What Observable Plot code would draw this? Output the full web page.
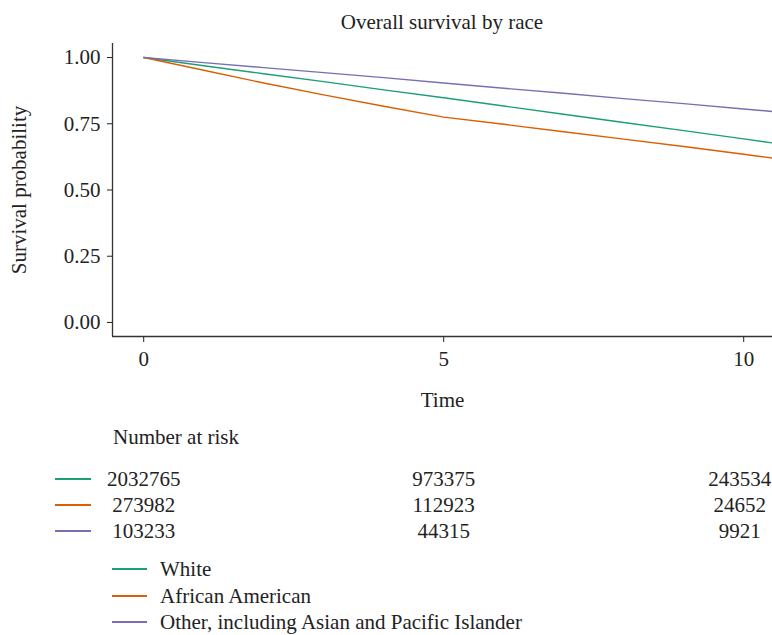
<!DOCTYPE html>
<html><head><meta charset="utf-8">
<script src="https://cdn.jsdelivr.net/npm/d3@7"></script>
<script src="https://cdn.jsdelivr.net/npm/@observablehq/plot@0.6"></script>
<style>
body{margin:0;background:#fff;font-family:"Liberation Serif",serif;color:#222}
#wrap{position:relative;width:772px;height:635px;overflow:hidden}
.abs{position:absolute;white-space:nowrap}
.sw{position:absolute;height:1.5px}
</style></head><body><div id="wrap"></div>
<script>
const groups = ["White", "African American", "Other, including Asian and Pacific Islander"];
const colors = ["#1b9e77", "#d95f02", "#7570b3"];
const times = [0, 1, 2, 3, 4, 5, 6, 7, 8, 9, 10, 10.5];
const survWhite   = [1.000, 0.969, 0.939, 0.909, 0.878, 0.848, 0.817, 0.786, 0.755, 0.724, 0.693, 0.677];
const survAfrican = [1.000, 0.952, 0.904, 0.859, 0.816, 0.775, 0.748, 0.720, 0.692, 0.664, 0.635, 0.620];
const survOther   = [1.000, 0.981, 0.962, 0.943, 0.924, 0.904, 0.884, 0.865, 0.845, 0.826, 0.806, 0.796];
const riskTimes = [0, 5, 10];
const riskWhite   = [2032765, 973375, 243534];
const riskAfrican = [273982, 112923, 24652];
const riskOther   = [103233, 44315, 9921];
const yTicks = [0, 0.25, 0.5, 0.75, 1];
const xTicks = [0, 5, 10];
const titleText = "Overall survival by race";

const survSeries = [survWhite, survAfrican, survOther];
const riskSeries = [riskWhite, riskAfrican, riskOther];
const survData = [];
groups.forEach((g, i) => times.forEach((t, j) => survData.push({group: g, time: t, surv: survSeries[i][j]})));
const riskData = [];
groups.forEach((g, i) => riskTimes.forEach((t, j) => riskData.push({group: g, time: t, n: riskSeries[i][j]})));
const lastT = riskTimes[riskTimes.length - 1];

const FS = 21;
const xDomain = [-0.52, 10.48];
const yDomain = [-0.053, 1.053];
const font = {fontFamily: "Liberation Serif, serif", fontSize: FS + "px", color: "#222", background: "transparent", overflow: "visible"};
const wrap = document.getElementById("wrap");

const chart = Plot.plot({
  width: 772, height: 415,
  marginTop: 43, marginBottom: 79, marginLeft: 112, marginRight: 0,
  style: font,
  x: {domain: xDomain},
  y: {domain: yDomain},
  color: {domain: groups, range: colors},
  marks: [
    Plot.axisY({ticks: yTicks, tickFormat: d3.format(".2f"), tickSize: 5, tickPadding: 7,
      label: "Survival probability", labelAnchor: "center", labelArrow: "none", labelOffset: 101, fontSize: FS}),
    Plot.axisX({ticks: xTicks, tickSize: 6, tickPadding: 9,
      label: "Time", labelAnchor: "center", labelArrow: "none", labelOffset: 70, fontSize: FS}),
    Plot.ruleX([xDomain[0]], {stroke: "#333", strokeWidth: 1.3}),
    Plot.ruleY([yDomain[0]], {stroke: "#333", strokeWidth: 1.3}),
    Plot.line(survData, {x: "time", y: "surv", z: "group", stroke: "group", strokeWidth: 1.4, clip: true})
  ]
});
chart.style.position = "absolute"; chart.style.left = "0px"; chart.style.top = "0px";
wrap.appendChild(chart);

const xs = chart.scale("x");
const title = document.createElement("div");
title.className = "abs";
title.textContent = titleText;
title.style.cssText += `left:${xs.apply(xDomain[0])}px;width:${772 - xs.apply(xDomain[0])}px;top:10px;text-align:center;font-size:${FS}px;line-height:24px;`;
wrap.appendChild(title);

const hdr = document.createElement("div");
hdr.className = "abs";
hdr.textContent = "Number at risk";
hdr.style.cssText += `left:113px;top:425px;font-size:${FS}px;line-height:24px;`;
wrap.appendChild(hdr);

const riskTop = 460;
const risk = Plot.plot({
  width: 772, height: 85,
  marginTop: 5, marginBottom: 0, marginLeft: 112, marginRight: 0,
  style: font,
  x: {domain: xDomain, axis: null},
  y: {type: "point", domain: groups, axis: null, padding: 0.5},
  marks: [
    Plot.text(riskData.filter(d => d.time !== lastT), {x: "time", y: "group", text: d => String(d.n), fontSize: FS, fill: "#222"}),
    Plot.text(riskData.filter(d => d.time === lastT), {x: "time", y: "group", text: d => String(d.n), fontSize: FS, fill: "#222", dx: -4})
  ]
});
risk.style.position = "absolute"; risk.style.left = "0px"; risk.style.top = riskTop + "px";
wrap.appendChild(risk);
const ry = risk.scale("y");
groups.forEach((g, i) => {
  const s = document.createElement("div");
  s.className = "sw";
  s.style.cssText += `left:55px;width:36px;background:${colors[i]};top:${riskTop + ry.apply(g) - 0.75}px;`;
  wrap.appendChild(s);
});

const legTop = [569, 596, 622];
groups.forEach((g, i) => {
  const s = document.createElement("div");
  s.className = "sw";
  s.style.cssText += `left:112px;width:35px;background:${colors[i]};top:${legTop[i] - 0.75}px;`;
  wrap.appendChild(s);
  const t = document.createElement("div");
  t.className = "abs";
  t.textContent = g;
  t.style.cssText += `left:160px;top:${legTop[i] - 11}px;font-size:${FS}px;line-height:22px;`;
  wrap.appendChild(t);
});
</script></body></html>
